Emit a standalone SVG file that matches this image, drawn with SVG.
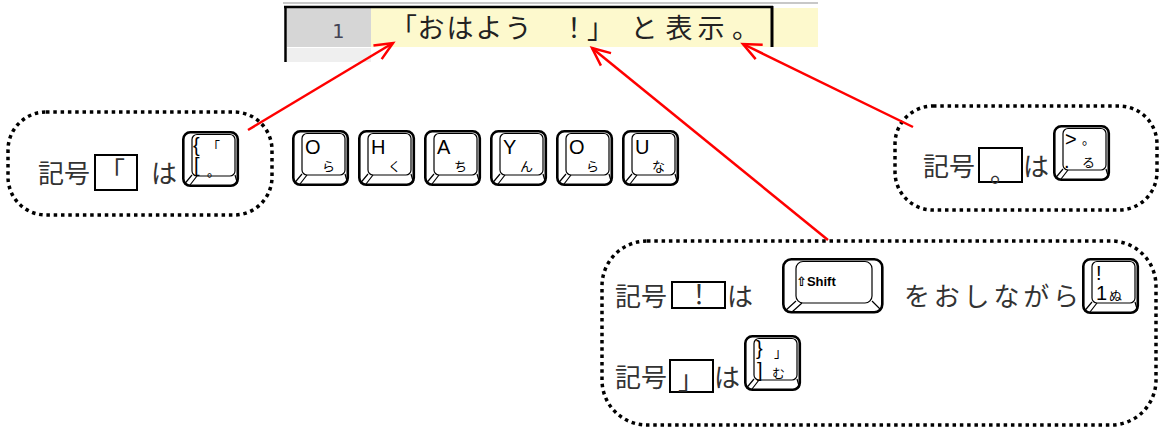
<svg xmlns="http://www.w3.org/2000/svg" width="1161" height="427" viewBox="0 0 1161 427">
<style>
.dot{fill:none;stroke:#000;stroke-width:3.5;stroke-dasharray:3.5 3.8}
.jp{font-family:"Noto Sans CJK JP",sans-serif;fill:#333;font-size:26px}
.box{fill:#fff;stroke:#000;stroke-width:2}
.ko{fill:#fff;stroke:#000;stroke-width:2.6}
.ki{fill:none;stroke:#000;stroke-width:1.2}
.kt{font-family:"Liberation Sans","DejaVu Sans",sans-serif;font-size:20px;fill:#000}
.ks{font-family:"Liberation Sans","DejaVu Sans",sans-serif;font-size:13px;fill:#000}
.kk{font-family:"Noto Sans CJK JP",sans-serif;font-size:13px;fill:#000}
.arrow{stroke:#f00;stroke-width:2.5;fill:none;marker-end:url(#ah)}
</style>
<defs>
<marker id="ah" markerUnits="userSpaceOnUse" markerWidth="24" markerHeight="20" refX="20" refY="10" orient="auto" viewBox="0 0 24 20">
<path d="M2,2 L20,10 L2,18" fill="none" stroke="#f00" stroke-width="2.5"/>
</marker>
<g id="key">
<rect class="ko" x="1.3" y="1.3" width="54.5" height="53.5" rx="7"/>
<rect class="ki" x="10" y="3.5" width="43" height="41.5" rx="5"/>
<path class="ki" d="M10,44 L2.5,53 M15,45 L8,54 M53,44 L55.5,52.5"/>
</g>
</defs>

<g id="sheet">
<line x1="283" y1="3" x2="818" y2="3" stroke="#c8c8c8" stroke-width="2"/>
<rect x="287" y="8" width="84" height="39" fill="#d6d6d6"/>
<rect x="287" y="48" width="84" height="14" fill="#efefef"/>
<rect x="371" y="8" width="447" height="39" fill="#fdf9cd"/>
<line x1="284" y1="7" x2="773" y2="7" stroke="#000" stroke-width="2.5"/>
<line x1="285.5" y1="6" x2="285.5" y2="62" stroke="#000" stroke-width="2.5"/>
<line x1="772" y1="6" x2="772" y2="47" stroke="#000" stroke-width="3"/>
<text x="338" y="38" text-anchor="middle" font-family="DejaVu Sans Mono, monospace" font-size="20" fill="#445">1</text>
<text x="390 417.5 446.5 475.5 504.5 560.5 587 630.5 665.5 697.5 732" y="38" font-family="Noto Sans CJK JP, sans-serif" font-size="27" fill="#222">「おはよう！」と表示。</text>
</g>

<g id="box-open-bracket">
<rect class="dot" x="8" y="112" width="264" height="103" rx="38"/>
<text class="jp" x="38" y="183">記号</text>
<rect class="box" x="95" y="155" width="42" height="35"/>
<text class="jp" x="99" y="181">「</text>
<text class="jp" x="151" y="183">は</text>
<use href="#key" x="182" y="131"/>
<text class="kt" x="193" y="152" font-size="16">{</text>
<text class="kk" x="207" y="151" font-size="17">「</text>
<text class="kt" x="194" y="172" font-size="16">[</text>
<text class="kk" x="207" y="176" font-size="17">。</text>
</g>

<g id="keys-ohayou">
<g id="key-o1"><use href="#key" x="292" y="130"/><text class="kt" x="305" y="154">O</text><text class="kk" x="322" y="171">ら</text></g>
<g id="key-h"><use href="#key" x="358" y="130"/><text class="kt" x="371" y="154">H</text><text class="kk" x="388" y="171">く</text></g>
<g id="key-a"><use href="#key" x="424" y="130"/><text class="kt" x="437" y="154">A</text><text class="kk" x="454" y="171">ち</text></g>
<g id="key-y"><use href="#key" x="490" y="130"/><text class="kt" x="503" y="154">Y</text><text class="kk" x="520" y="171">ん</text></g>
<g id="key-o2"><use href="#key" x="556" y="130"/><text class="kt" x="569" y="154">O</text><text class="kk" x="586" y="171">ら</text></g>
<g id="key-u"><use href="#key" x="622" y="130"/><text class="kt" x="635" y="154">U</text><text class="kk" x="652" y="171">な</text></g>
</g>

<g id="box-period">
<rect class="dot" x="895" y="106" width="262" height="104" rx="38"/>
<text class="jp" x="923" y="176">記号</text>
<rect class="box" x="979" y="148" width="43" height="34"/>
<text class="jp" x="990" y="182">。</text>
<text class="jp" x="1023" y="176">は</text>
<use href="#key" x="1053" y="125"/>
<text class="kt" x="1065" y="146" font-size="16">&gt;</text>
<text class="kk" x="1082" y="144" font-size="14">。</text>
<text class="kt" x="1064" y="168" font-size="16">.</text>
<text class="kk" x="1082" y="167" font-size="14">る</text>
</g>

<g id="box-exclaim">
<rect class="dot" x="602" y="241" width="554" height="184" rx="45"/>
<text class="jp" x="615" y="306">記号</text>
<rect class="box" x="672" y="282" width="53" height="26"/>
<text class="jp" x="686" y="304">！</text>
<text class="jp" x="727" y="306">は</text>
<g id="key-shift">
<rect class="ko" x="783.3" y="259.3" width="99" height="53" rx="8"/>
<rect class="ki" x="796" y="261.5" width="76" height="41.5" rx="7"/>
<path class="ki" d="M796,301 L785,311 M802,303 L792,312 M872,301 L881,310"/>
<text class="ks" x="796" y="286" font-weight="bold">⇧Shift</text>
</g>
<text class="jp" x="904" y="306" font-size="27" textLength="175" lengthAdjust="spacing">をおしながら</text>
<use href="#key" x="1082" y="258"/>
<text class="kt" x="1096" y="280" font-size="16">!</text>
<text class="kt" x="1096" y="300" font-size="16">1</text>
<text class="kk" x="1109" y="300" font-size="14">ぬ</text>
<text class="jp" x="615" y="387">記号</text>
<rect class="box" x="670" y="360" width="43" height="32"/>
<text class="jp" x="678" y="389">」</text>
<text class="jp" x="714" y="387">は</text>
<use href="#key" x="744" y="335"/>
<text class="kt" x="756" y="355" font-size="15">}</text>
<text class="kk" x="774" y="357" font-size="14">」</text>
<text class="kt" x="757" y="377" font-size="15">]</text>
<text class="kk" x="772" y="378" font-size="14">む</text>
</g>

<g id="connectors">
<line class="arrow" x1="248" y1="130" x2="393" y2="43"/>
<line class="arrow" x1="828" y1="240" x2="592" y2="48"/>
<line class="arrow" x1="913" y1="127" x2="743" y2="44"/>
</g>
</svg>
